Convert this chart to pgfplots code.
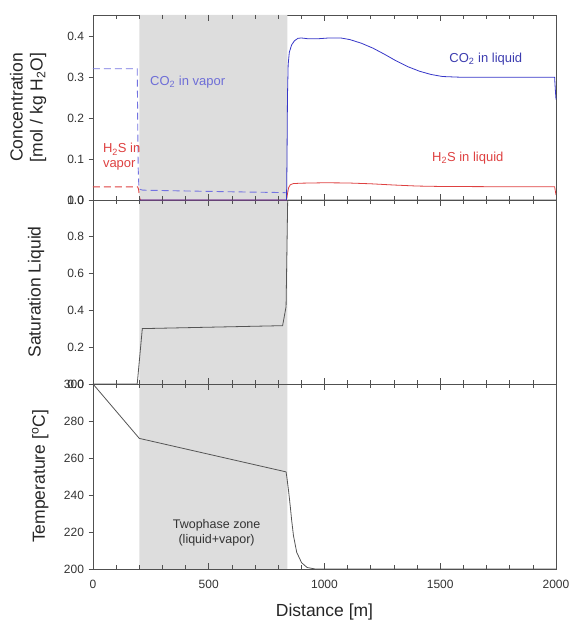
\documentclass[border=0pt]{standalone}
\usepackage{fontspec}
\setmainfont{Liberation Sans}
\usepackage{pgfplots}
\pgfplotsset{compat=1.18}
\definecolor{shade}{RGB}{221,221,221}
\definecolor{axgray}{RGB}{80,80,80}
\definecolor{co2liq}{RGB}{55,55,200}
\definecolor{co2vap}{RGB}{115,115,225}
\definecolor{h2s}{RGB}{222,65,65}
\definecolor{curvegray}{RGB}{85,85,85}
\definecolor{co2txt}{RGB}{60,60,175}
\definecolor{co2vtxt}{RGB}{110,110,215}
\pgfplotsset{
 panel/.style={
  scale only axis, width=463pt, xmin=0, xmax=2000, clip=false,
  xtick={0,500,1000,1500,2000}, minor x tick num=0,
  major tick length=0pt, minor tick length=0pt,
  axis line style={axgray, line width=0.7pt},
  tick label style={font=\fontsize{12}{14}\selectfont, text=black!80},
  xticklabel style={yshift=-8pt, /pgf/number format/1000 sep={}},
  yticklabel style={xshift=-5.5pt},
  label style={font=\fontsize{17.5}{20}\selectfont, text=black!85},
  /pgf/number format/assume math mode=true,
 },
 tk/.style={axgray, line width=0.7pt, unbounded coords=jump, forget plot},
}
\begin{document}
\begin{tikzpicture}
\useasboundingbox (-93pt,-52pt) rectangle (478pt,569pt);
% ---------- Panel 3: Temperature ----------
\begin{axis}[panel, at={(0,0)}, height=185pt, ymin=200, ymax=300,
  ytick={200,220,...,300},
  xlabel={Distance [m]},
  xlabel style={at={(axis description cs:0.5,-0.259)}, anchor=base},
  ylabel={Temperature [\textsuperscript{o}C]},
  ylabel style={at={(axis description cs:-0.114,0.5)}, anchor=center}]
\addplot[draw=none, fill=shade] coordinates {(200,200) (840,200) (840,300) (200,300) (200,200)};
\addplot[curvegray, line width=0.8pt] coordinates {
(0,300) (200,270.6) (834,252.5) (838,249) (845,242) (852,234) (858,226.5)
(866,218) (880,209) (901,203.4) (925,200.8) (960,200) (2000,200)};
% x ticks (bottom and top, inward)
\addplot[tk] coordinates {
(0,200)(0,203.24)(nan,nan) (100,200)(100,202.16)(nan,nan) (200,200)(200,202.16)(nan,nan)
(300,200)(300,202.16)(nan,nan) (400,200)(400,202.16)(nan,nan) (500,200)(500,203.24)(nan,nan)
(600,200)(600,202.16)(nan,nan) (700,200)(700,202.16)(nan,nan) (800,200)(800,202.16)(nan,nan)
(900,200)(900,202.16)(nan,nan) (1000,200)(1000,203.24)(nan,nan) (1100,200)(1100,202.16)(nan,nan)
(1200,200)(1200,202.16)(nan,nan) (1300,200)(1300,202.16)(nan,nan) (1400,200)(1400,202.16)(nan,nan)
(1500,200)(1500,203.24)(nan,nan) (1600,200)(1600,202.16)(nan,nan) (1700,200)(1700,202.16)(nan,nan)
(1800,200)(1800,202.16)(nan,nan) (1900,200)(1900,202.16)(nan,nan) (2000,200)(2000,203.24)(nan,nan)
(0,300)(0,296.76)(nan,nan) (100,300)(100,297.84)(nan,nan) (200,300)(200,297.84)(nan,nan)
(300,300)(300,297.84)(nan,nan) (400,300)(400,297.84)(nan,nan) (500,300)(500,296.76)(nan,nan)
(600,300)(600,297.84)(nan,nan) (700,300)(700,297.84)(nan,nan) (800,300)(800,297.84)(nan,nan)
(900,300)(900,297.84)(nan,nan) (1000,300)(1000,296.76)(nan,nan) (1100,300)(1100,297.84)(nan,nan)
(1200,300)(1200,297.84)(nan,nan) (1300,300)(1300,297.84)(nan,nan) (1400,300)(1400,297.84)(nan,nan)
(1500,300)(1500,296.76)(nan,nan) (1600,300)(1600,297.84)(nan,nan) (1700,300)(1700,297.84)(nan,nan)
(1800,300)(1800,297.84)(nan,nan) (1900,300)(1900,297.84)(nan,nan) (2000,300)(2000,296.76)};
% y ticks (outward)
\addplot[tk] coordinates {
(-19.4,200)(0,200)(nan,nan) (-19.4,220)(0,220)(nan,nan) (-19.4,240)(0,240)(nan,nan)
(-19.4,260)(0,260)(nan,nan) (-19.4,280)(0,280)(nan,nan) (-19.4,300)(0,300)};
\node[font=\fontsize{12.5}{14.5}\selectfont, align=center, text=black!80] at (axis cs:534,219.5) {Twophase zone\\(liquid+vapor)};
\end{axis}
% ---------- Panel 2: Saturation ----------
\begin{axis}[panel, at={(0,185pt)}, height=184pt, ymin=0, ymax=1,
  ytick={0,0.2,...,1.0}, xticklabels={},
  yticklabel style={/pgf/number format/.cd, fixed, fixed zerofill, precision=1},
  ylabel={Saturation Liquid},
  ylabel style={at={(axis description cs:-0.123,0.5)}, anchor=center}]
\addplot[draw=none, fill=shade] coordinates {(200,0) (840,0) (840,1) (200,1) (200,0)};
\addplot[curvegray, line width=0.8pt] coordinates {
(0,0) (191,0) (213,0.301) (819,0.317) (834,0.42) (841,1.0) (2000,1.0)};
\addplot[tk] coordinates {
(0,0)(0,0.0326)(nan,nan) (100,0)(100,0.0217)(nan,nan) (200,0)(200,0.0217)(nan,nan)
(300,0)(300,0.0217)(nan,nan) (400,0)(400,0.0217)(nan,nan) (500,0)(500,0.0326)(nan,nan)
(600,0)(600,0.0217)(nan,nan) (700,0)(700,0.0217)(nan,nan) (800,0)(800,0.0217)(nan,nan)
(900,0)(900,0.0217)(nan,nan) (1000,0)(1000,0.0326)(nan,nan) (1100,0)(1100,0.0217)(nan,nan)
(1200,0)(1200,0.0217)(nan,nan) (1300,0)(1300,0.0217)(nan,nan) (1400,0)(1400,0.0217)(nan,nan)
(1500,0)(1500,0.0326)(nan,nan) (1600,0)(1600,0.0217)(nan,nan) (1700,0)(1700,0.0217)(nan,nan)
(1800,0)(1800,0.0217)(nan,nan) (1900,0)(1900,0.0217)(nan,nan) (2000,0)(2000,0.0326)(nan,nan)
(0,1)(0,0.9674)(nan,nan) (100,1)(100,0.9783)(nan,nan) (200,1)(200,0.9783)(nan,nan)
(300,1)(300,0.9783)(nan,nan) (400,1)(400,0.9783)(nan,nan) (500,1)(500,0.9674)(nan,nan)
(600,1)(600,0.9783)(nan,nan) (700,1)(700,0.9783)(nan,nan) (800,1)(800,0.9783)(nan,nan)
(900,1)(900,0.9783)(nan,nan) (1000,1)(1000,0.9674)(nan,nan) (1100,1)(1100,0.9783)(nan,nan)
(1200,1)(1200,0.9783)(nan,nan) (1300,1)(1300,0.9783)(nan,nan) (1400,1)(1400,0.9783)(nan,nan)
(1500,1)(1500,0.9674)(nan,nan) (1600,1)(1600,0.9783)(nan,nan) (1700,1)(1700,0.9783)(nan,nan)
(1800,1)(1800,0.9783)(nan,nan) (1900,1)(1900,0.9783)(nan,nan) (2000,1)(2000,0.9674)};
\addplot[tk] coordinates {
(-19.4,0)(0,0)(nan,nan) (-19.4,0.2)(0,0.2)(nan,nan) (-19.4,0.4)(0,0.4)(nan,nan)
(-19.4,0.6)(0,0.6)(nan,nan) (-19.4,0.8)(0,0.8)(nan,nan) (-19.4,1)(0,1)};
\end{axis}
% ---------- Panel 1: Concentration ----------
\begin{axis}[panel, at={(0,369pt)}, height=185pt, ymin=0, ymax=0.451,
  ytick={0,0.1,...,0.4}, xticklabels={},
  yticklabel style={/pgf/number format/.cd, fixed, fixed zerofill, precision=1},
  ylabel={Concentration\\{}[mol / kg H\textsubscript{2}O]},
  ylabel style={at={(axis description cs:-0.140,0.5)}, anchor=center, align=center}]
\addplot[draw=none, fill=shade] coordinates {(200,0) (840,0) (840,0.451) (200,0.451) (200,0)};
\addplot[co2vap, line width=0.9pt, dash pattern=on 7pt off 4pt] coordinates {
(0,0.320) (191,0.320) (193,0.20) (195,0.08) (198,0.035) (202,0.026) (215,0.024)
(400,0.022) (600,0.020) (832,0.018)};
\addplot[h2s, line width=0.9pt, dash pattern=on 7pt off 4pt] coordinates {
(0,0.032) (193,0.032) (197,0.026) (200,0.010) (203,0.002) (206,0)};
\addplot[h2s, line width=0.8pt] coordinates {
(206,0) (836,0) (840,0.015) (845,0.030) (852,0.037) (865,0.040) (900,0.041)
(1000,0.042) (1100,0.0415) (1200,0.0395) (1300,0.0365) (1400,0.034) (1500,0.033)
(1700,0.0325) (1994,0.0325) (2000,0.012)};
\addplot[co2liq, line width=0.8pt] coordinates {
(200,0) (836,0) (838,0.10) (840,0.25) (843,0.33) (848,0.36) (858,0.378)
(870,0.388) (885,0.394) (900,0.395) (930,0.393) (970,0.393) (1020,0.395)
(1070,0.395) (1110,0.391) (1160,0.382) (1210,0.370) (1260,0.355) (1310,0.339)
(1360,0.325) (1410,0.314) (1460,0.306) (1510,0.301) (1600,0.299) (1994,0.299)
(1997,0.27) (2000,0.245)};
\addplot[tk] coordinates {
(0,0)(0,0.0146)(nan,nan) (100,0)(100,0.0098)(nan,nan) (200,0)(200,0.0098)(nan,nan)
(300,0)(300,0.0098)(nan,nan) (400,0)(400,0.0098)(nan,nan) (500,0)(500,0.0146)(nan,nan)
(600,0)(600,0.0098)(nan,nan) (700,0)(700,0.0098)(nan,nan) (800,0)(800,0.0098)(nan,nan)
(900,0)(900,0.0098)(nan,nan) (1000,0)(1000,0.0146)(nan,nan) (1100,0)(1100,0.0098)(nan,nan)
(1200,0)(1200,0.0098)(nan,nan) (1300,0)(1300,0.0098)(nan,nan) (1400,0)(1400,0.0098)(nan,nan)
(1500,0)(1500,0.0146)(nan,nan) (1600,0)(1600,0.0098)(nan,nan) (1700,0)(1700,0.0098)(nan,nan)
(1800,0)(1800,0.0098)(nan,nan) (1900,0)(1900,0.0098)(nan,nan) (2000,0)(2000,0.0146)(nan,nan)
(0,0.451)(0,0.4364)(nan,nan) (100,0.451)(100,0.4412)(nan,nan) (200,0.451)(200,0.4412)(nan,nan)
(300,0.451)(300,0.4412)(nan,nan) (400,0.451)(400,0.4412)(nan,nan) (500,0.451)(500,0.4364)(nan,nan)
(600,0.451)(600,0.4412)(nan,nan) (700,0.451)(700,0.4412)(nan,nan) (800,0.451)(800,0.4412)(nan,nan)
(900,0.451)(900,0.4412)(nan,nan) (1000,0.451)(1000,0.4364)(nan,nan) (1100,0.451)(1100,0.4412)(nan,nan)
(1200,0.451)(1200,0.4412)(nan,nan) (1300,0.451)(1300,0.4412)(nan,nan) (1400,0.451)(1400,0.4412)(nan,nan)
(1500,0.451)(1500,0.4364)(nan,nan) (1600,0.451)(1600,0.4412)(nan,nan) (1700,0.451)(1700,0.4412)(nan,nan)
(1800,0.451)(1800,0.4412)(nan,nan) (1900,0.451)(1900,0.4412)(nan,nan) (2000,0.451)(2000,0.4364)};
\addplot[tk] coordinates {
(-19.4,0)(0,0)(nan,nan) (-19.4,0.1)(0,0.1)(nan,nan) (-19.4,0.2)(0,0.2)(nan,nan)
(-19.4,0.3)(0,0.3)(nan,nan) (-19.4,0.4)(0,0.4)};
\node[font=\fontsize{13}{15}\selectfont, text=co2vtxt, anchor=west] at (axis cs:232,0.288) {CO\textsubscript{2} in vapor};
\node[font=\fontsize{13}{15}\selectfont, text=h2s, anchor=west, align=left] at (axis cs:28,0.105) {H\textsubscript{2}S in\\vapor};
\node[font=\fontsize{13}{15}\selectfont, text=co2txt] at (axis cs:1697,0.343) {CO\textsubscript{2} in liquid};
\node[font=\fontsize{13}{15}\selectfont, text=h2s] at (axis cs:1619,0.102) {H\textsubscript{2}S in liquid};
\end{axis}
\end{tikzpicture}
\end{document}
